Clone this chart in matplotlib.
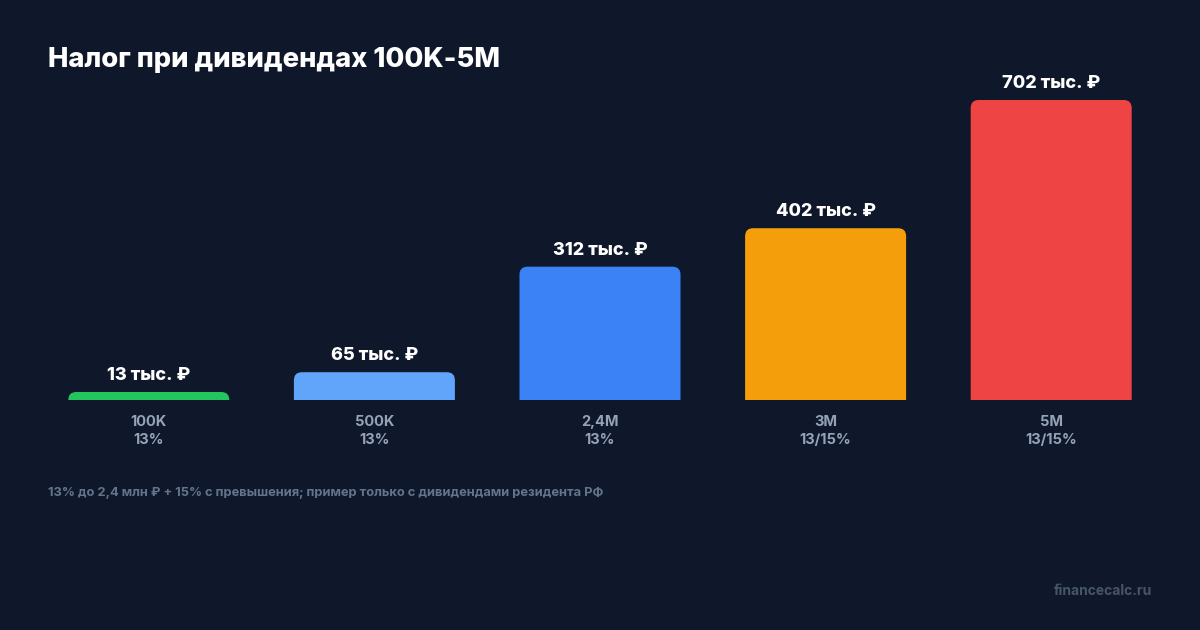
import matplotlib
matplotlib.use("Agg")
import matplotlib.pyplot as plt
from matplotlib.path import Path
from matplotlib.patches import PathPatch

plt.rcParams['font.family'] = ['Inter', 'DejaVu Sans']

categories = ["100K", "500K", "2,4M", "3M", "5M"]
rates = ["13%", "13%", "13%", "13/15%", "13/15%"]
tax_values = [13, 65, 312, 402, 702]
value_labels = ["13 тыс. ₽", "65 тыс. ₽", "312 тыс. ₽", "402 тыс. ₽", "702 тыс. ₽"]
colors = ["#22c55e", "#60a5fa", "#3b82f6", "#f59e0b", "#ef4444"]

title = "Налог при дивидендах 100K-5M"
footnote = "13% до 2,4 млн ₽ + 15% с превышения; пример только с дивидендами резидента РФ"
watermark = "financecalc.ru"

BG = "#0f172a"
W, H = 1200, 630
fig = plt.figure(figsize=(W / 100, H / 100), dpi=100, facecolor=BG)

x0, x1 = 68 - 32, 1132 + 32
y_base, y_top = 400, 100
ax = fig.add_axes([x0 / W, (H - y_base) / H, (x1 - x0) / W, (y_base - y_top) / H])
ax.set_facecolor(BG)
n = len(categories)
ax.set_xlim(-0.5, n - 0.5)
ax.set_ylim(0, max(tax_values))
for s in ax.spines.values():
    s.set_visible(False)
ax.set_xticks([])
ax.set_yticks([])

ax_w_px = (x1 - x0)
ax_h_px = (y_base - y_top)
xr = ax.get_xlim()[1] - ax.get_xlim()[0]
yr = ax.get_ylim()[1] - ax.get_ylim()[0]
px_x = xr / ax_w_px
px_y = yr / ax_h_px

bar_w = 161 * px_x
rad = 8
rx, ry = rad * px_x, rad * px_y
min_h = 8 * px_y

for i, (v, c) in enumerate(zip(tax_values, colors)):
    h = max(v, min_h)
    l, r = i - bar_w / 2, i + bar_w / 2
    verts = [(l, 0), (l, h - ry), (l, h), (l + rx, h), (r - rx, h), (r, h), (r, h - ry), (r, 0), (l, 0)]
    codes = [Path.MOVETO, Path.LINETO, Path.CURVE3, Path.CURVE3, Path.LINETO,
             Path.CURVE3, Path.CURVE3, Path.LINETO, Path.CLOSEPOLY]
    ax.add_patch(PathPatch(Path(verts, codes), facecolor=c, edgecolor='none'))
    ax.annotate(value_labels[i], (i, h), xytext=(0, 12), textcoords='offset pixels',
                ha='center', va='baseline', color='white', fontsize=13, fontweight='heavy',
                annotation_clip=False)
    ax.annotate(categories[i], (i, 0), xytext=(0, -26), textcoords='offset pixels',
                ha='center', va='baseline', color='#94a3b8', fontsize=10.5, fontweight='bold',
                annotation_clip=False)
    ax.annotate(rates[i], (i, 0), xytext=(0, -44), textcoords='offset pixels',
                ha='center', va='baseline', color='#94a3b8', fontsize=10.5, fontweight='bold',
                annotation_clip=False)

fig.text(48 / W, 1 - 67 / H, title, color='white', fontsize=19.7, fontweight='heavy',
         ha='left', va='baseline')
fig.text(48 / W, 1 - 496 / H, footnote, color='#64748b', fontsize=9.3, fontweight='bold',
         ha='left', va='baseline')
fig.text(1152 / W, 1 - 595 / H, watermark, color='#475569', fontsize=10, fontweight='bold',
         ha='right', va='baseline')

fig.savefig("out.png", dpi=100, facecolor=BG)
